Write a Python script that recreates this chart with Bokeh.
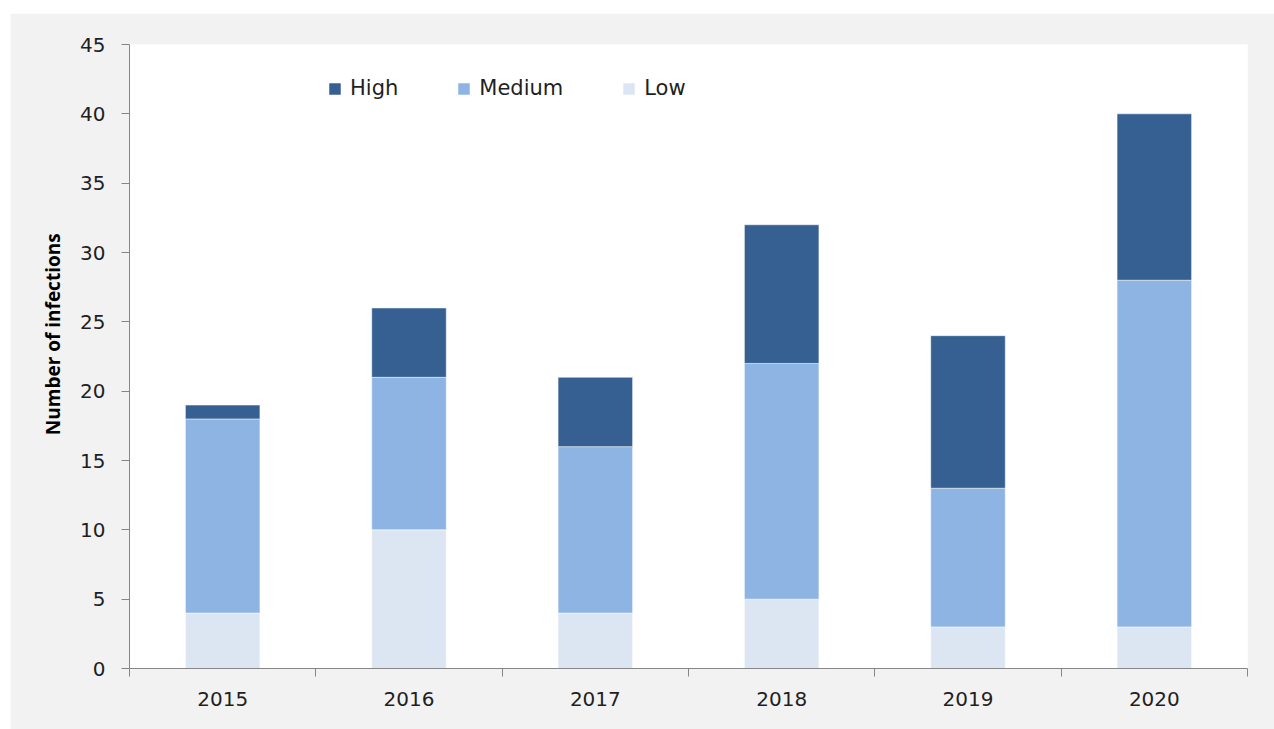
from bokeh.plotting import figure
from bokeh.models import (ColumnDataSource, Range1d, FixedTicker, Legend, LegendItem, Spacer)
from bokeh.layouts import column, row
from bokeh.embed import file_html
from bokeh.resources import INLINE

years = ["2015", "2016", "2017", "2018", "2019", "2020"]
low = [4, 10, 4, 5, 3, 3]
medium = [14, 11, 12, 17, 10, 25]
high = [1, 5, 5, 10, 11, 12]

series = ["low", "medium", "high"]
labels = {"low": "Low", "medium": "Medium", "high": "High"}
colors = {"low": "#DCE6F2", "medium": "#8EB4E3", "high": "#366092"}

pos = list(range(len(years)))
src = ColumnDataSource(dict(x=pos, low=low, medium=medium, high=high))

FONT = "DejaVu Sans"
TXT = "#1f1f1f"
AX = "#868686"

p = figure(width=1264, height=716, output_backend="svg", toolbar_location=None,
           x_range=Range1d(-0.5, len(years) - 0.5), y_range=Range1d(0, 45),
           min_border_left=119, min_border_right=27, min_border_top=31, min_border_bottom=61)
p.background_fill_color = "white"
p.border_fill_color = "#F2F2F2"
p.outline_line_color = None
p.xgrid.visible = False
p.ygrid.visible = False

rs = p.vbar_stack(series, x="x", width=0.4, source=src,
                  color=[colors[s] for s in series],
                  line_color="white", line_width=1, line_alpha=0.5)

# x axis: labels at centers, ticks at boundaries
xa = p.xaxis[0]
xa.ticker = FixedTicker(ticks=pos, minor_ticks=[i - 0.5 for i in range(len(years) + 1)])
xa.major_label_overrides = {i: y for i, y in enumerate(years)}
xa.major_tick_line_color = None
xa.major_tick_out = 8
xa.major_tick_in = 0
xa.minor_tick_out = 8
xa.minor_tick_in = 0
xa.minor_tick_line_color = AX
xa.axis_line_color = AX
xa.major_label_standoff = 15
xa.major_label_text_font = FONT
xa.major_label_text_font_size = "20px"
xa.major_label_text_color = TXT

ya = p.yaxis[0]
ya.ticker = FixedTicker(ticks=list(range(0, 46, 5)))
ya.major_tick_out = 8
ya.major_tick_in = 0
ya.minor_tick_line_color = None
ya.major_tick_line_color = AX
ya.axis_line_color = AX
ya.major_label_standoff = 16
ya.major_label_text_font = FONT
ya.major_label_text_font_size = "20px"
ya.major_label_text_color = TXT
ya.axis_label = "\u00a0" * 9 + "Number of infections"
ya.axis_label_text_font = "Open Sans"
ya.axis_label_text_font_style = "bold"
ya.axis_label_text_font_size = "19px"
ya.axis_label_text_color = "#000000"
ya.axis_label_standoff = 11

items = [LegendItem(label=labels[s], renderers=[r]) for s, r in zip(series, rs)]
items = items[::-1]
legend = Legend(items=items, orientation="horizontal", location=(198, 568),
                glyph_width=15, glyph_height=15, label_standoff=8, spacing=58,
                padding=0, margin=0, border_line_color=None, background_fill_alpha=0,
                label_text_font=FONT, label_text_font_size="21px", label_text_color=TXT,
                label_height=20)
p.add_layout(legend, "center")

layout = column(Spacer(height=13), row(Spacer(width=10), p))
open("out.html", "w").write(file_html(layout, INLINE))
